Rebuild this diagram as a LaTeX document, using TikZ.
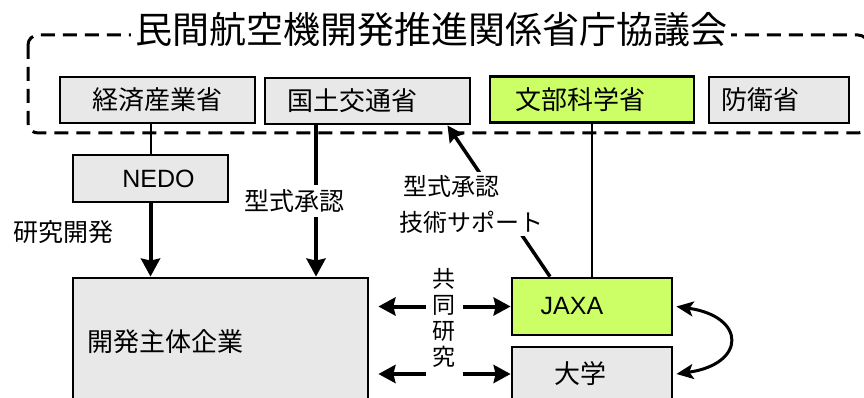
\documentclass[tikz,border=0pt]{standalone}
\usepackage{fontspec}
\setmainfont{Liberation Sans}
\newfontfamily\jp{Noto Sans CJK JP}
\usetikzlibrary{arrows.meta}

\definecolor{boxgray}{HTML}{E8E8E8}
\definecolor{limegreen}{HTML}{CCFF66}

\tikzset{
  box/.style={draw, line width=2.8pt, fill=boxgray, minimum height=46pt, inner sep=0pt,
    font=\jp\fontsize{26}{30}\selectfont},
  limebox/.style={fill=limegreen},
  latin/.style={font=\fontsize{25}{30}\selectfont},
  tshift/.style={execute at begin node={\hspace*{-#1}}},
  lbl/.style={font=\jp\fontsize{25}{30}\selectfont},
  council/.style={line width=3pt, dash pattern=on 14pt off 8pt, rounded corners=10pt},
  thinline/.style={line width=2pt},
  bigarrow/.style={line width=4pt, -{Stealth[length=18pt, width=19pt, inset=2pt]}},
  twoway/.style={line width=4pt, {Stealth[length=17pt, width=18pt, inset=2pt]}-{Stealth[length=17pt, width=18pt, inset=2pt]}},
  bendarrow/.style={line width=3pt, {Stealth[length=17pt, width=15pt, inset=4pt]}-{Stealth[length=17pt, width=15pt, inset=4pt]}}
}

\begin{document}
\begin{tikzpicture}[x=1pt, y=-1pt]
        \useasboundingbox (0,0) rectangle (864,398);

        \draw[council] (28,35) rectangle (868,133);
        \node[fill=white, inner xsep=4pt, inner ysep=2pt, font=\jp\fontsize{37}{40}\selectfont] (kyogikai) at (431,30) {民間航空機開発推進関係省庁協議会};

        \node[box, minimum width=195pt] (keizai) at (157.5,100) {経済産業省};
        \node[box, minimum width=205pt, tshift=30pt] (kokudo) at (367.5,101) {国土交通省};
        \node[box, limebox, minimum width=204pt, tshift=24pt] (monbu) at (592,99.5) {文部科学省};
        \node[box, minimum width=140pt, tshift=38pt] (boei) at (779,100) {防衛省};
        \node[box, latin, minimum width=155pt, minimum height=47pt, tshift=-16pt] (nedo) at (150.5,178.5) {NEDO};
        \node[box, minimum width=295pt, minimum height=127pt, tshift=111pt] (kaihatsu) at (220.5,341.5) {開発主体企業};
        \node[box, limebox, latin, minimum width=160pt, minimum height=57pt, tshift=40pt] (jaxa) at (592,306.5) {JAXA};
        \node[box, minimum width=160pt, minimum height=54pt, tshift=24pt] (daigaku) at (592,374) {大学};

        \coordinate (k1) at ([xshift=-51.5pt]kokudo.south);
        \coordinate (j1) at ([xshift=-42pt]jaxa.north);
        \coordinate (k2) at ([xshift=80pt]kokudo.south);

        \draw[thinline] (keizai.south -| nedo.north) -- (nedo.north);
        \draw[bigarrow] (nedo) -- (nedo |- kaihatsu.north);
        \node[lbl] (kenkyu) at (63,232) {研究開発};
        \draw[bigarrow] (k1) -- node[lbl, fill=white, xshift=-22pt, inner ysep=5pt] (katashiki) {型式承認} (k1 |- kaihatsu.north);
        \draw[bigarrow, line width=3.5pt, -{Stealth[length=16pt, width=16pt, inset=2pt]}] (j1) -- (k2);
        \node[fill=white, align=left, inner sep=3pt, font=\jp\fontsize{24}{36}\selectfont] (support) at (471,204) {\,型式承認\\技術サポート};
        \draw[thinline] (monbu) -- (jaxa);

        \draw[twoway, shorten <=9pt] (kaihatsu.east |- jaxa) -- (jaxa.west);
        \draw[twoway, shorten <=9pt] (kaihatsu.east |- daigaku) -- (daigaku.west);
        \node[fill=white, align=center, inner xsep=7pt, inner ysep=8pt, font=\jp\fontsize{23}{26}\selectfont] (kyodo) at (444,318) {共\\同\\研\\究};
        \draw[bendarrow] ([xshift=3pt]jaxa.east) .. controls +(70,10) and +(70,-10) .. ([xshift=3pt]daigaku.east);
\end{tikzpicture}
\end{document}
